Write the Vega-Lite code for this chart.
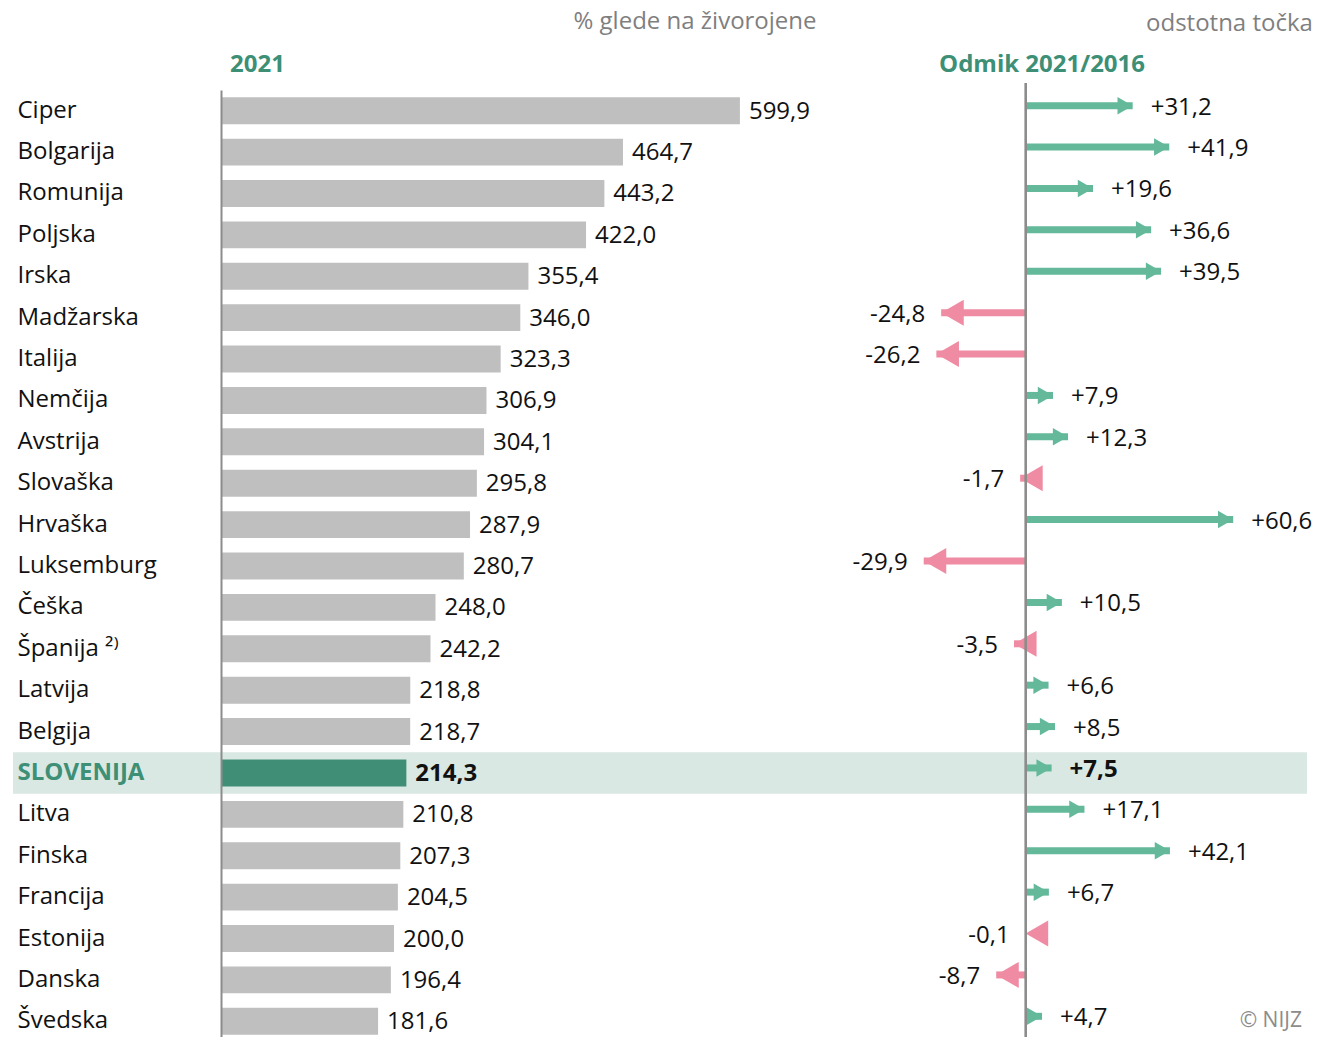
{
  "$schema": "https://vega.github.io/schema/vega-lite/v6.json",
  "width": 1097,
  "height": 947,
  "autosize": {"type": "none"},
  "padding": {"left": 221, "top": 90, "right": 0, "bottom": 0},
  "background": "white",
  "config": {
    "view": {"stroke": null},
    "font": "Open Sans",
    "text": {"font": "Open Sans"},
    "locale": {"number": {"decimal": ",", "thousands": ".", "grouping": [3], "currency": ["", " €"], "minus": "-"}}
  },
  "data": {
    "values": [
      {"country": "Ciper", "value": 599.9, "change": 31.2},
      {"country": "Bolgarija", "value": 464.7, "change": 41.9},
      {"country": "Romunija", "value": 443.2, "change": 19.6},
      {"country": "Poljska", "value": 422.0, "change": 36.6},
      {"country": "Irska", "value": 355.4, "change": 39.5},
      {"country": "Madžarska", "value": 346.0, "change": -24.8},
      {"country": "Italija", "value": 323.3, "change": -26.2},
      {"country": "Nemčija", "value": 306.9, "change": 7.9},
      {"country": "Avstrija", "value": 304.1, "change": 12.3},
      {"country": "Slovaška", "value": 295.8, "change": -1.7},
      {"country": "Hrvaška", "value": 287.9, "change": 60.6},
      {"country": "Luksemburg", "value": 280.7, "change": -29.9},
      {"country": "Češka", "value": 248.0, "change": 10.5},
      {"country": "Španija", "value": 242.2, "change": -3.5},
      {"country": "Latvija", "value": 218.8, "change": 6.6},
      {"country": "Belgija", "value": 218.7, "change": 8.5},
      {"country": "SLOVENIJA", "value": 214.3, "change": 7.5},
      {"country": "Litva", "value": 210.8, "change": 17.1},
      {"country": "Finska", "value": 207.3, "change": 42.1},
      {"country": "Francija", "value": 204.5, "change": 6.7},
      {"country": "Estonija", "value": 200.0, "change": -0.1},
      {"country": "Danska", "value": 196.4, "change": -8.7},
      {"country": "Švedska", "value": 181.6, "change": 4.7}
    ]
  },
  "encoding": {
    "y": {
      "field": "country",
      "type": "nominal",
      "scale": {
        "domain": ["Ciper", "Bolgarija", "Romunija", "Poljska", "Irska", "Madžarska", "Italija", "Nemčija", "Avstrija", "Slovaška", "Hrvaška", "Luksemburg", "Češka", "Španija", "Latvija", "Belgija", "SLOVENIJA", "Litva", "Finska", "Francija", "Estonija", "Danska", "Švedska"],
        "range": [0, 952],
        "paddingInner": 0,
        "paddingOuter": 0
      },
      "axis": {
        "title": null,
        "ticks": false,
        "domain": true,
        "domainColor": "#8c8c8c",
        "domainWidth": 2,
        "labelAlign": "left",
        "labelPadding": 204,
        "labelFontSize": 24,
        "labelFont": "Open Sans",
        "labelLimit": 0,
        "labelExpr": "datum.value === 'Španija' ? 'Španija ²⁾' : datum.value",
        "labelColor": {"condition": {"test": "datum.value === 'SLOVENIJA'", "value": "#3d8f75"}, "value": "#111111"},
        "labelFontWeight": {"condition": {"test": "datum.value === 'SLOVENIJA'", "value": "bold"}, "value": "normal"},
        "zindex": 1
      }
    }
  },
  "resolve": {"scale": {"x": "independent"}},
  "layer": [
    {
      "transform": [{"filter": "datum.country === 'SLOVENIJA'"}],
      "mark": {"type": "rect", "color": "#dae8e4"},
      "encoding": {
        "x": {"datum": -240.5, "type": "quantitative", "scale": {"domain": [0, 1268.2], "nice": false, "zero": false}, "axis": null},
        "x2": {"datum": 1255.5}
      }
    },
    {
      "mark": {"type": "bar", "height": {"band": 0.65}},
      "encoding": {
        "x": {"field": "value", "type": "quantitative", "scale": {"domain": [0, 1268.2], "nice": false, "zero": false}, "axis": null},
        "color": {"condition": {"test": "datum.country === 'SLOVENIJA'", "value": "#418e77"}, "value": "#bfbfbf"}
      }
    },
    {
      "transform": [{"filter": "datum.country !== 'SLOVENIJA'"}],
      "mark": {"type": "text", "align": "left", "baseline": "middle", "dx": 9, "dy": 1, "fontSize": 24, "color": "#111111"},
      "encoding": {
        "x": {"field": "value", "type": "quantitative", "scale": {"domain": [0, 1268.2], "nice": false, "zero": false}, "axis": null},
        "text": {"field": "value", "type": "quantitative", "format": ".1f"}
      }
    },
    {
      "transform": [{"filter": "datum.country === 'SLOVENIJA'"}],
      "mark": {"type": "text", "align": "left", "baseline": "middle", "dx": 9, "dy": 1, "fontSize": 24, "fontWeight": "bold", "color": "#111111"},
      "encoding": {
        "x": {"field": "value", "type": "quantitative", "scale": {"domain": [0, 1268.2], "nice": false, "zero": false}, "axis": null},
        "text": {"field": "value", "type": "quantitative", "format": ".1f"}
      }
    },
    {
      "mark": {"type": "rule", "strokeWidth": 7, "yOffset": -5},
      "encoding": {
        "x": {"field": "change", "type": "quantitative", "scale": {"domain": [-235.4, 85.4], "nice": false, "zero": false}, "axis": null},
        "x2": {"datum": 0},
        "color": {"condition": {"test": "datum.change < 0", "value": "#ef8ca3"}, "value": "#63b99a"}
      }
    },
    {
      "transform": [{"filter": "datum.change >= 0"}],
      "mark": {"type": "point", "shape": "triangle-right", "size": 306, "filled": true, "opacity": 1, "color": "#63b99a", "xOffset": -7.6, "yOffset": -5},
      "encoding": {
        "x": {"field": "change", "type": "quantitative", "scale": {"domain": [-235.4, 85.4], "nice": false, "zero": false}, "axis": null}
      }
    },
    {
      "transform": [{"filter": "datum.change < 0"}],
      "mark": {"type": "point", "shape": "triangle-left", "size": 676, "filled": true, "opacity": 1, "color": "#ef8ca3", "xOffset": 11.3, "yOffset": -5},
      "encoding": {
        "x": {"field": "change", "type": "quantitative", "scale": {"domain": [-235.4, 85.4], "nice": false, "zero": false}, "axis": null}
      }
    },
    {
      "mark": {"type": "rule", "strokeWidth": 2, "color": "#8c8c8c"},
      "encoding": {
        "x": {"datum": 0, "type": "quantitative", "scale": {"domain": [-235.4, 85.4], "nice": false, "zero": false}, "axis": null},
        "y": {"value": -7},
        "y2": {"value": 947}
      }
    },
    {
      "transform": [{"filter": "datum.change >= 0 && datum.country !== 'SLOVENIJA'"}],
      "mark": {"type": "text", "align": "left", "baseline": "middle", "dx": 18, "yOffset": -3, "fontSize": 24, "color": "#111111"},
      "encoding": {
        "x": {"field": "change", "type": "quantitative", "scale": {"domain": [-235.4, 85.4], "nice": false, "zero": false}, "axis": null},
        "text": {"field": "change", "type": "quantitative", "format": "+.1f"}
      }
    },
    {
      "transform": [{"filter": "datum.country === 'SLOVENIJA'"}],
      "mark": {"type": "text", "align": "left", "baseline": "middle", "dx": 18, "yOffset": -3, "fontSize": 24, "fontWeight": "bold", "color": "#111111"},
      "encoding": {
        "x": {"field": "change", "type": "quantitative", "scale": {"domain": [-235.4, 85.4], "nice": false, "zero": false}, "axis": null},
        "text": {"field": "change", "type": "quantitative", "format": "+.1f"}
      }
    },
    {
      "transform": [{"filter": "datum.change < 0"}],
      "mark": {"type": "text", "align": "right", "baseline": "middle", "dx": -16, "yOffset": -3, "fontSize": 24, "color": "#111111"},
      "encoding": {
        "x": {"field": "change", "type": "quantitative", "scale": {"domain": [-235.4, 85.4], "nice": false, "zero": false}, "axis": null},
        "text": {"field": "change", "type": "quantitative", "format": ".1f"}
      }
    },
    {
      "transform": [{"filter": "datum.country === 'Švedska'"}],
      "mark": {"type": "text", "align": "right", "baseline": "middle", "fontSize": 21, "color": "#8c8c8c", "text": "© NIJZ"},
      "encoding": {
        "x": {"datum": 80.7, "type": "quantitative", "scale": {"domain": [-235.4, 85.4], "nice": false, "zero": false}, "axis": null}
      }
    },
    {
      "data": {"values": [{}]},
      "mark": {"type": "text", "align": "left", "baseline": "middle", "fontSize": 24, "fontWeight": "bold", "color": "#3d8f75", "text": "2021"},
      "encoding": {
        "x": {"datum": 10.4, "type": "quantitative", "scale": {"domain": [0, 1268.2], "nice": false, "zero": false}, "axis": null},
        "y": {"value": -25}
      }
    },
    {
      "data": {"values": [{}]},
      "mark": {"type": "text", "align": "center", "baseline": "middle", "fontSize": 24, "color": "#7f7f7f", "text": "% glede na živorojene"},
      "encoding": {
        "x": {"datum": 548, "type": "quantitative", "scale": {"domain": [0, 1268.2], "nice": false, "zero": false}, "axis": null},
        "y": {"value": -68}
      }
    },
    {
      "data": {"values": [{}]},
      "mark": {"type": "text", "align": "center", "baseline": "middle", "fontSize": 24, "fontWeight": "bold", "color": "#3d8f75", "text": "Odmik 2021/2016"},
      "encoding": {
        "x": {"datum": 4.7, "type": "quantitative", "scale": {"domain": [-235.4, 85.4], "nice": false, "zero": false}, "axis": null},
        "y": {"value": -25}
      }
    },
    {
      "data": {"values": [{}]},
      "mark": {"type": "text", "align": "right", "baseline": "middle", "fontSize": 24, "color": "#7f7f7f", "text": "odstotna točka"},
      "encoding": {
        "x": {"datum": 83.9, "type": "quantitative", "scale": {"domain": [-235.4, 85.4], "nice": false, "zero": false}, "axis": null},
        "y": {"value": -66}
      }
    }
  ]
}
